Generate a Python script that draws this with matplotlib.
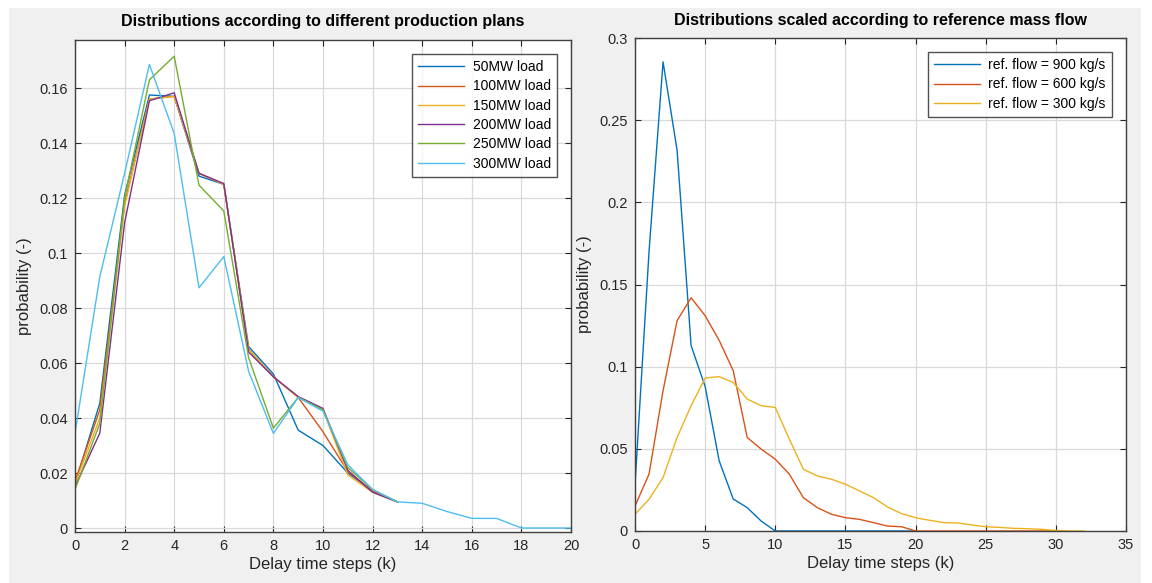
import matplotlib

matplotlib.use("Agg")

import matplotlib.pyplot as plt
from matplotlib.patches import Rectangle

plt.rcParams["font.family"] = ["Liberation Sans", "DejaVu Sans"]

# left panel: delay distributions for each production plan
load_labels = ["50MW load", "100MW load", "150MW load",
               "200MW load", "250MW load", "300MW load"]
load_50 = [0.016, 0.0454, 0.121, 0.1575, 0.157, 0.128, 0.125, 0.066,
           0.056, 0.0356, 0.030, 0.020, 0.0135, 0.0095]
load_100 = [0.017, 0.043, 0.118, 0.156, 0.157, 0.129, 0.125, 0.065,
            0.055, 0.0475, 0.035, 0.0205, 0.0135, 0.0095]
load_150 = [0.016, 0.040, 0.117, 0.156, 0.157, 0.129, 0.125, 0.065,
            0.055, 0.0475, 0.043, 0.0193, 0.013, 0.0095]
load_200 = [0.015, 0.0345, 0.111, 0.1554, 0.1583, 0.129, 0.1253, 0.064,
            0.055, 0.0478, 0.0435, 0.021, 0.013, 0.0095]
load_250 = [0.014, 0.038, 0.120, 0.163, 0.1716, 0.1247, 0.1153, 0.062,
            0.0363, 0.0475, 0.043, 0.022, 0.014, 0.0095]
load_300 = [0.0344, 0.0914, 0.129, 0.1686, 0.1435, 0.0874, 0.0987, 0.057,
            0.0344, 0.0475, 0.0425, 0.023, 0.014, 0.0095, 0.009, 0.006,
            0.0035, 0.0035, 0.0, 0.0, 0.0]
load_series = [load_50, load_100, load_150, load_200, load_250, load_300]

# right panel: distributions scaled to a reference mass flow
flow_labels = ["ref. flow = 900 kg/s", "ref. flow = 600 kg/s",
               "ref. flow = 300 kg/s"]
flow_900 = [0.028, 0.17, 0.2855, 0.2317, 0.1128, 0.088, 0.0427, 0.0195,
            0.0142, 0.006, 0.0, 0.0, 0.0, 0.0, 0.0, 0.0, 0.0, 0.0, 0.0,
            0.0, 0.0]
flow_600 = [0.0152, 0.0346, 0.0854, 0.128, 0.1419, 0.131, 0.116, 0.0976,
            0.0569, 0.0498, 0.0437, 0.0346, 0.0203, 0.0142, 0.0102, 0.0081,
            0.0071, 0.0051, 0.003, 0.0026, 0.0, 0.0, 0.0, 0.0, 0.0, 0.0,
            0.0, 0.0, 0.0, 0.0, 0.0]
flow_300 = [0.0102, 0.0193, 0.0325, 0.0569, 0.0762, 0.0931, 0.0939, 0.0904,
            0.0803, 0.0762, 0.0752, 0.0559, 0.0376, 0.0335, 0.0315, 0.0285,
            0.0244, 0.0203, 0.0146, 0.0106, 0.0081, 0.0065, 0.0051, 0.0049,
            0.0037, 0.0026, 0.0022, 0.0016, 0.0014, 0.001, 0.0003, 0.0, 0.0]
flow_series = [flow_900, flow_600, flow_300]

matlab_colors = ["#0072BD", "#D95319", "#EDB120", "#7E2F8E", "#77AC30", "#4DBEEE"]
fig_bg = "#f0f0f0"
edge = "#404040"


def style_axes(ax):
    ax.set_facecolor("white")
    ax.grid(True, color="#d9d9d9", linewidth=0.9)
    ax.set_axisbelow(True)
    ax.tick_params(direction="in", length=4, width=0.8, color="#262626",
                   labelsize=10.5, labelcolor="#262626", top=True, right=True,
                   pad=5)
    for spine in ax.spines.values():
        spine.set_color(edge)
        spine.set_linewidth(1.0)


def add_legend(ax, pad):
    leg = ax.legend(loc="upper right", fontsize=10, frameon=True,
                    fancybox=False, borderaxespad=pad, handlelength=3.3,
                    handletextpad=0.6, labelspacing=0.38, borderpad=0.45)
    leg.get_frame().set_edgecolor("#262626")
    leg.get_frame().set_linewidth(1.0)
    return leg


fig = plt.figure(figsize=(11.52, 5.83), dpi=100, facecolor="white")
fig.patches.append(Rectangle((9 / 1152, 0), 1132 / 1152, 575 / 583,
                             transform=fig.transFigure, facecolor=fig_bg,
                             edgecolor="none", zorder=-10))

ax1 = fig.add_axes([75 / 1152, 51 / 583, 496 / 1152, 492 / 583])
for label, values, color in zip(load_labels, load_series, matlab_colors):
    ax1.plot(range(len(values)), values, color=color, linewidth=1.0, label=label)
ax1.set_xlim(0, 20)
ax1.set_ylim(-0.00145, 0.1775)
ax1.set_xticks(range(0, 21, 2))
ax1.set_yticks([0, 0.02, 0.04, 0.06, 0.08, 0.1, 0.12, 0.14, 0.16])
ax1.set_yticklabels(["0", "0.02", "0.04", "0.06", "0.08", "0.1", "0.12",
                     "0.14", "0.16"])
style_axes(ax1)
ax1.set_xlabel("Delay time steps (k)", fontsize=12, color="#262626", labelpad=3)
ax1.set_ylabel("probability (-)", fontsize=12, color="#262626", labelpad=5)
ax1.set_title("Distributions according to different production plans",
              fontsize=11.5, fontweight="bold", pad=10)
add_legend(ax1, 1.0)

ax2 = fig.add_axes([635 / 1152, 52 / 583, 491 / 1152, 493 / 583])
for label, values, color in zip(flow_labels, flow_series, matlab_colors[:3]):
    ax2.plot(range(len(values)), values, color=color, linewidth=1.0, label=label)
ax2.set_xlim(0, 35)
ax2.set_ylim(0, 0.3)
ax2.set_xticks(range(0, 36, 5))
ax2.set_yticks([0, 0.05, 0.1, 0.15, 0.2, 0.25, 0.3])
ax2.set_yticklabels(["0", "0.05", "0.1", "0.15", "0.2", "0.25", "0.3"])
style_axes(ax2)
ax2.set_xlabel("Delay time steps (k)", fontsize=12, color="#262626", labelpad=3)
ax2.set_ylabel("probability (-)", fontsize=12, color="#262626", labelpad=5)
ax2.set_title("Distributions scaled according to reference mass flow",
              fontsize=11.5, fontweight="bold", pad=9)
add_legend(ax2, 1.0)

fig.savefig("out.png", dpi=100, facecolor=fig.get_facecolor())
